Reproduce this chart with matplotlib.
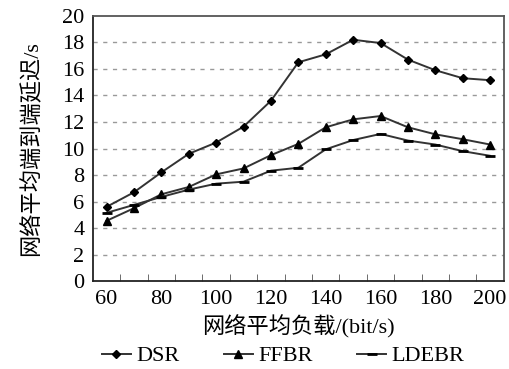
import matplotlib
matplotlib.use('Agg')
import matplotlib.pyplot as plt
import numpy as np

plt.rcParams['font.family'] = ['Liberation Serif', 'Noto Sans CJK SC']

load = [60, 70, 80, 90, 100, 110, 120, 130, 140, 150, 160, 170, 180, 190, 200]
dsr = [5.6, 6.7, 8.2, 9.6, 10.45, 11.65, 13.6, 16.5, 17.1, 18.2, 17.95, 16.7, 15.9, 15.3, 15.15]
ffbr = [4.55, 5.5, 6.55, 7.1, 8.05, 8.5, 9.5, 10.35, 11.6, 12.2, 12.45, 11.6, 11.07, 10.7, 10.3]
ldebr = [5.15, 5.75, 6.35, 6.9, 7.35, 7.5, 8.33, 8.55, 9.94, 10.64, 11.1, 10.6, 10.3, 9.8, 9.45]

fig = plt.figure(figsize=(5.1, 3.69), dpi=100)
ax = fig.add_axes([0.182, 0.238, 0.806, 0.719])

lc = '#333333'
ax.plot(load, dsr, color=lc, lw=1.4, marker='D', ms=4.5, mfc='black', mec='black', label='DSR')
ax.plot(load, ffbr, color=lc, lw=1.4, marker='^', ms=5.5, mfc='black', mec='black', label='FFBR')
ax.plot(load, ldebr, color=lc, lw=1.4, marker='_', ms=7, mew=2, mec='black', label='LDEBR')

ax.set_xlim(55, 205)
ax.set_ylim(0, 20)
ax.set_yticks(np.arange(0, 21, 2))
ax.set_xticks(np.arange(60, 201, 20))
ax.set_xticks(np.arange(65, 200, 10), minor=True)
ax.tick_params(axis='x', which='major', length=0, pad=6, labelsize=16)
ax.tick_params(axis='x', which='minor', direction='in', length=5, color='#555555')
ax.tick_params(axis='y', length=0, pad=6, labelsize=16)

for v in np.arange(2, 20, 2):
    ax.axhline(v, color='#999999', lw=1, ls=(0, (3, 4)), zorder=0)

for s in ['left', 'bottom']:
    ax.spines[s].set_color('#222222')
    ax.spines[s].set_linewidth(1.3)
for s in ['top', 'right']:
    ax.spines[s].set_color('#555555')
    ax.spines[s].set_linewidth(1.3)

ax.set_ylabel('网络平均端到端延迟/s', fontsize=16, labelpad=14)
ax.set_xlabel('网络平均负载/(bit/s)', fontsize=16, labelpad=5)

fig.legend(loc='center', bbox_to_anchor=(0.555, 0.035), ncol=3, frameon=False,
           fontsize=16, handlelength=1.3, columnspacing=2.0, handletextpad=0.25)

fig.savefig('out.png', dpi=100)
